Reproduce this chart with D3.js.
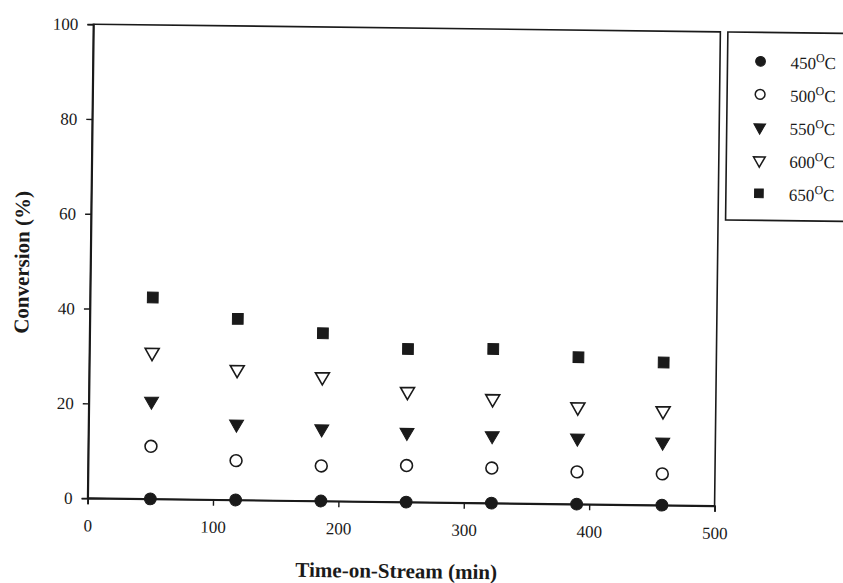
<!DOCTYPE html>
<meta charset="utf-8">
<style>
  body { margin: 0; background: #fff; }
  text { font-family: "Liberation Serif", "DejaVu Serif", serif; fill: #1a1a1a; }
</style>
<body>
<script src="https://d3js.org/d3.v7.min.js"></script>
<script>

var width = 843,
    height = 583;

// time-on-stream (min)
var times = [50, 118, 186, 254, 322, 390, 458];

// conversion (%) for each temperature
var conv450 = [0, 0, 0, 0, 0, 0, 0];
var conv500 = [11.1, 8.3, 7.4, 7.7, 7.4, 6.8, 6.6];
var conv550 = [20.6, 16.0, 15.2, 14.7, 14.2, 13.9, 13.3];
var conv600 = [30.9, 27.5, 26.2, 23.3, 22.0, 20.5, 19.9];
var conv650 = [42.5, 38.2, 35.4, 32.3, 32.5, 31.0, 30.1];

var labels = ["450", "500", "550", "600", "650"];
var xTicks = [0, 100, 200, 300, 400, 500];
var yTicks = [0, 20, 40, 60, 80, 100];

var series = [
  {name: labels[0], values: conv450, shape: d3.symbolCircle, fill: true},
  {name: labels[1], values: conv500, shape: d3.symbolCircle, fill: false},
  {name: labels[2], values: conv550, shape: d3.symbolTriangle, fill: true},
  {name: labels[3], values: conv600, shape: d3.symbolTriangle, fill: false},
  {name: labels[4], values: conv650, shape: d3.symbolSquare, fill: true}
];

var margin = {left: 90.5, top: 28},
    w = 627,
    h = 474;

var svg = d3.select("body").append("svg")
    .attr("width", width)
    .attr("height", height);

// the scan is tilted a little
var page = svg.append("g")
    .attr("transform", "rotate(0.7,404,265)");

var x = d3.scaleLinear().domain([0, 500]).range([margin.left, margin.left + w]);
var y = d3.scaleLinear().domain([0, 100]).range([margin.top + h, margin.top]);

// frame
page.append("rect")
    .attr("x", margin.left).attr("y", margin.top)
    .attr("width", w).attr("height", h)
    .attr("fill", "none").attr("stroke", "#1a1a1a").attr("stroke-width", 1.6);

var xAxis = page.append("g")
    .attr("transform", "translate(0," + (margin.top + h) + ")")
    .call(d3.axisBottom(x).tickValues(xTicks).tickSize(6).tickPadding(15));

var yAxis = page.append("g")
    .attr("transform", "translate(" + margin.left + ",0)")
    .call(d3.axisLeft(y).tickValues(yTicks).tickSize(6).tickPadding(9));

[xAxis, yAxis].forEach(function(a) {
  a.attr("font-size", null).attr("font-family", null);
  a.select(".domain").attr("stroke", "#1a1a1a").attr("stroke-width", 1.8);
  a.selectAll(".tick line").attr("stroke", "#1a1a1a").attr("stroke-width", 1.4);
  a.selectAll(".tick text")
    .style("font-size", "17px")
    .attr("fill", "#1a1a1a");
});

// points
function symbolPath(s, size) {
  return d3.symbol().type(s.shape).size(size)();
}

series.forEach(function(s) {
  var size = s.shape === d3.symbolTriangle ? 85 : (s.shape === d3.symbolSquare ? 115 : 110);
  page.append("g").selectAll("path")
    .data(s.values)
    .enter()
    .append("path")
    .attr("d", symbolPath(s, size))
    .attr("transform", function(d, i) {
      var rot = s.shape === d3.symbolTriangle ? " rotate(180)" : "";
      return "translate(" + x(times[i]) + "," + y(d) + ")" + rot;
    })
    .attr("fill", s.fill ? "#1a1a1a" : "#fff")
    .attr("stroke", "#1a1a1a")
    .attr("stroke-width", s.fill ? 1 : 1.6);
});

// axis titles
page.append("text")
    .attr("x", 400).attr("y", 578)
    .attr("text-anchor", "middle")
    .style("font-size", "21px").style("font-weight", "bold")
    .text("Time-on-Stream (min)");

page.append("text")
    .attr("transform", "translate(29,267) rotate(-90)")
    .attr("text-anchor", "middle")
    .style("font-size", "21px").style("font-weight", "bold")
    .text("Conversion (%)");

// legend
var legend = page.append("g");
legend.append("rect")
    .attr("x", 725).attr("y", 28)
    .attr("width", 150).attr("height", 188)
    .attr("fill", "#fff").attr("stroke", "#1a1a1a").attr("stroke-width", 1.6);

var item = legend.selectAll(".item")
    .data(series)
    .enter().append("g")
    .attr("transform", function(d, i) { return "translate(758," + (57 + i * 33) + ")"; });

item.append("path")
    .attr("d", function(s) { return symbolPath(s, s.shape === d3.symbolTriangle ? 60 : 75); })
    .attr("transform", function(s) { return s.shape === d3.symbolTriangle ? "rotate(180)" : ""; })
    .attr("fill", function(s) { return s.fill ? "#1a1a1a" : "#fff"; })
    .attr("stroke", "#1a1a1a")
    .attr("stroke-width", function(s) { return s.fill ? 1 : 1.5; });

var lt = item.append("text")
    .attr("x", 30).attr("y", 7)
    .style("font-size", "17px");
lt.append("tspan").text(function(s) { return s.name; });
lt.append("tspan").attr("dy", -7).style("font-size", "12px").text("O");
lt.append("tspan").attr("dy", 7).text("C");

</script>
</body>
